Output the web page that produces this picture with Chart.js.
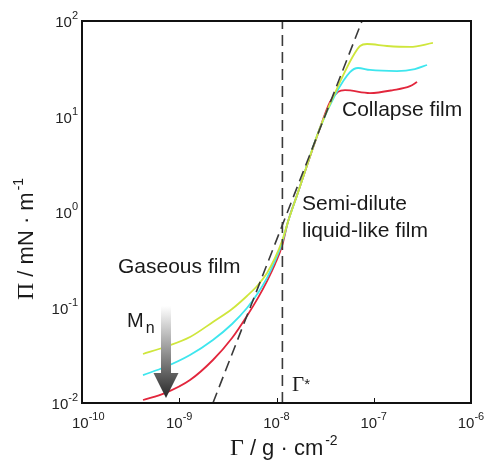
<!DOCTYPE html>
<html>
<head>
<meta charset="utf-8">
<script src="https://cdn.jsdelivr.net/npm/chart.js@4.4.1/dist/chart.umd.min.js"></script>
<style>
  html, body { margin: 0; padding: 0; background: #fff; }
</style>
</head>
<body>
<canvas id="chart" width="488" height="465"></canvas>
<script>
// surface concentration (g/cm2) and surface pressure (mN/m)
const gammaYellow = [4.24e-10, 7.14e-10, 1.29e-9, 2.22e-9, 3.49e-9, 4.97e-9, 6.45e-9, 7.99e-9, 9.65e-9, 1.14e-8, 1.31e-8, 1.63e-8, 2.80e-8, 4.50e-8, 5.97e-8, 7.23e-8, 8.53e-8, 1.37e-7, 2.36e-7, 4.06e-7];
const piYellow    = [0.0326, 0.0386, 0.0491, 0.0705, 0.0965, 0.132, 0.172, 0.230, 0.330, 0.497, 0.786, 1.51, 7.59, 23.0, 41.0, 54.7, 57.4, 54.7, 53.5, 58.9];

const gammaCyan = [4.24e-10, 7.14e-10, 1.29e-9, 2.22e-9, 3.49e-9, 4.97e-9, 6.45e-9, 7.99e-9, 9.65e-9, 1.14e-8, 1.31e-8, 1.63e-8, 2.80e-8, 4.00e-8, 5.70e-8, 6.89e-8, 9.14e-8, 1.73e-7, 2.65e-7, 3.53e-7];
const piCyan    = [0.0196, 0.0238, 0.0318, 0.0457, 0.0672, 0.0988, 0.142, 0.204, 0.307, 0.473, 0.786, 1.51, 7.59, 16.8, 29.2, 32.2, 30.7, 29.9, 31.4, 34.6];

const gammaRed = [4.24e-10, 7.14e-10, 1.29e-9, 2.22e-9, 3.49e-9, 4.97e-9, 6.45e-9, 7.99e-9, 9.65e-9, 1.14e-8, 1.31e-8, 1.63e-8, 2.80e-8, 3.55e-8, 4.29e-8, 5.06e-8, 9.14e-8, 1.58e-7, 2.36e-7, 2.79e-7];
const piRed    = [0.01075, 0.0127, 0.0174, 0.0282, 0.0479, 0.0815, 0.126, 0.189, 0.285, 0.441, 0.786, 1.51, 7.59, 14.2, 18.1, 18.9, 17.6, 18.9, 20.8, 23.0];

// guide lines: power-law slope and Gamma*
const slopeGamma = [2.22e-9, 7.57e-8];
const slopePi    = [0.01, 100];
const starGamma  = [1.15e-8, 1.15e-8];
const starPi     = [0.01, 100];

// tick decades (exponents of ten)
const xTickExp = [-10, -9, -8, -7, -6];
const yTickExp = [-2, -1, 0, 1, 2];

const SANS = "'Liberation Sans', Arial, sans-serif";
const SERIF = "'Liberation Serif', 'Times New Roman', serif";

function toPoints(xs, ys) {
    return xs.map((x, i) => ({ x: x, y: ys[i] }));
}

// draws frame, ticks, superscript tick labels, axis titles and annotations
const decorPlugin = {
    id: 'decor',
    afterDraw(chart) {
        const ctx = chart.ctx;
        const area = chart.chartArea;
        const xs = chart.scales.x;
        const ys = chart.scales.y;
        ctx.save();

        // frame
        ctx.strokeStyle = '#111';
        ctx.lineWidth = 2;
        ctx.strokeRect(area.left, area.top, area.right - area.left, area.bottom - area.top);

        // small inner ticks on the bottom axis
        ctx.lineWidth = 1;
        xTickExp.forEach(e => {
            const px = Math.round(xs.getPixelForValue(Math.pow(10, e))) + 0.5;
            ctx.beginPath();
            ctx.moveTo(px, area.bottom);
            ctx.lineTo(px, area.bottom - 5);
            ctx.stroke();
        });

        ctx.fillStyle = '#222';
        ctx.textBaseline = 'alphabetic';
        ctx.textAlign = 'left';

        // x tick labels
        xTickExp.forEach((e, i) => {
            const px = xs.getPixelForValue(Math.pow(10, e));
            ctx.font = '15px ' + SANS;
            const wb = ctx.measureText('10').width;
            ctx.font = '11px ' + SANS;
            const we = ctx.measureText(String(e)).width;
            let x0 = px - (wb + we) / 2;
            if (i === 0) x0 = area.left - 10;
            ctx.font = '15px ' + SANS;
            ctx.fillText('10', x0, area.bottom + 25);
            ctx.font = '11px ' + SANS;
            ctx.fillText(String(e), x0 + wb, area.bottom + 17);
        });

        // y tick labels
        yTickExp.forEach(e => {
            const py = ys.getPixelForValue(Math.pow(10, e));
            ctx.font = '11px ' + SANS;
            const lab = String(e);
            const we = ctx.measureText(lab).width;
            const xr = area.left - 4;
            ctx.fillText(lab, xr - we, py - 2);
            ctx.font = '15px ' + SANS;
            const wb = ctx.measureText('10').width;
            ctx.fillText('10', xr - we - wb, py + 6);
        });

        // x axis title
        ctx.fillStyle = '#1a1a1a';
        let cx = 230;
        ctx.font = '24px ' + SERIF;
        ctx.fillText('\u0393', cx, 455);
        cx += ctx.measureText('\u0393').width + 6;
        ctx.font = '22px ' + SANS;
        ctx.fillText('/ g \u00b7 cm', cx, 455);
        cx += ctx.measureText('/ g \u00b7 cm').width + 2;
        ctx.font = '14px ' + SANS;
        ctx.fillText('-2', cx, 445);

        // y axis title (rotated)
        ctx.save();
        ctx.translate(33, 300);
        ctx.rotate(-Math.PI / 2);
        let cy = 0;
        ctx.font = '24px ' + SERIF;
        ctx.fillText('\u03a0', cy, 0);
        cy += ctx.measureText('\u03a0').width + 6;
        ctx.font = '22px ' + SANS;
        ctx.fillText('/ mN \u00b7 m', cy, 0);
        cy += ctx.measureText('/ mN \u00b7 m').width + 2;
        ctx.font = '14px ' + SANS;
        ctx.fillText('-1', cy, -10);
        ctx.restore();

        // region annotations
        ctx.fillStyle = '#1a1a1a';
        ctx.font = '21px ' + SANS;
        ctx.fillText('Collapse film', 342, 116);
        ctx.fillText('Semi-dilute', 302, 210);
        ctx.fillText('liquid-like film', 302, 237);
        ctx.fillText('Gaseous film', 118, 273);

        ctx.font = '20px ' + SANS;
        ctx.fillText('M', 127, 327);
        const wm = ctx.measureText('M').width;
        ctx.font = '16px ' + SANS;
        ctx.fillText('n', 127 + wm + 2, 333);

        ctx.font = '21px ' + SERIF;
        ctx.fillText('\u0393', 292, 391);
        const wg = ctx.measureText('\u0393').width;
        ctx.font = '15px ' + SANS;
        ctx.fillText('*', 292 + wg, 389);

        // molecular weight arrow with fading shaft
        const grad = ctx.createLinearGradient(0, 306, 0, 398);
        grad.addColorStop(0, 'rgba(255,255,255,1)');
        grad.addColorStop(1, 'rgba(40,40,40,1)');
        ctx.fillStyle = grad;
        ctx.beginPath();
        ctx.moveTo(161, 306);
        ctx.lineTo(171, 306);
        ctx.lineTo(171, 373);
        ctx.lineTo(178.5, 373);
        ctx.lineTo(166, 398);
        ctx.lineTo(153.5, 373);
        ctx.lineTo(161, 373);
        ctx.closePath();
        ctx.fill();

        ctx.restore();
    }
};

const ctx = document.getElementById('chart').getContext('2d');
new Chart(ctx, {
    type: 'line',
    data: {
        datasets: [
            {
                label: 'slope',
                data: toPoints(slopeGamma, slopePi),
                borderColor: '#3a3a3a',
                borderWidth: 1.6,
                borderDash: [11, 6],
                pointRadius: 0,
                tension: 0
            },
            {
                label: 'Gamma*',
                data: toPoints(starGamma, starPi),
                borderColor: '#3a3a3a',
                borderWidth: 1.6,
                borderDash: [11, 6],
                pointRadius: 0,
                tension: 0
            },
            {
                label: 'low Mn',
                data: toPoints(gammaYellow, piYellow),
                borderColor: '#cfe63c',
                borderWidth: 1.8,
                pointRadius: 0,
                cubicInterpolationMode: 'monotone'
            },
            {
                label: 'mid Mn',
                data: toPoints(gammaCyan, piCyan),
                borderColor: '#3ee6ee',
                borderWidth: 1.8,
                pointRadius: 0,
                cubicInterpolationMode: 'monotone'
            },
            {
                label: 'high Mn',
                data: toPoints(gammaRed, piRed),
                borderColor: '#e2263c',
                borderWidth: 1.8,
                pointRadius: 0,
                cubicInterpolationMode: 'monotone'
            }
        ]
    },
    options: {
        responsive: false,
        animation: false,
        devicePixelRatio: 1,
        layout: {
            padding: { left: 82, right: 17, top: 21, bottom: 62 }
        },
        plugins: {
            legend: { display: false },
            tooltip: { enabled: false }
        },
        scales: {
            x: {
                type: 'logarithmic',
                min: 1e-10,
                max: 1e-6,
                display: false
            },
            y: {
                type: 'logarithmic',
                min: 1e-2,
                max: 1e2,
                display: false
            }
        }
    },
    plugins: [decorPlugin]
});
</script>
</body>
</html>
